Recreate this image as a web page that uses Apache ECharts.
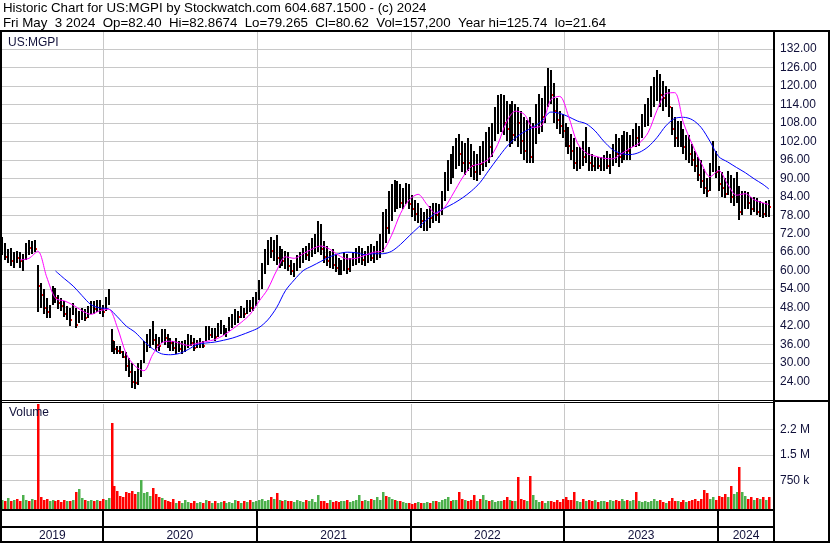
<!DOCTYPE html>
<html><head><meta charset="utf-8">
<script src="https://cdn.jsdelivr.net/npm/echarts@6/dist/echarts.min.js"></script>
<style>html,body{margin:0;padding:0;background:#fff;overflow:hidden}#c{width:830px;height:543px}</style>
</head><body><div id="c"></div>
<script>
// ---------------- DATA ----------------
const headerLine1 = 'Historic Chart for US:MGPI by Stockwatch.com 604.687.1500 - (c) 2024';
const headerLine2 = 'Fri May  3 2024  Op=82.40  Hi=82.8674  Lo=79.265  Cl=80.62  Vol=157,200  Year hi=125.74  lo=21.64';
const symbolLabel = 'US:MGPI';
const volumeLabel = 'Volume';
const firstWeek = [2019, 4, 8]; // weekly bars (Wednesdays), 261 weeks to 2024-05-01
const axisStart = '2019-05-07';
const axisEnd = '2024-05-13';
const yearSegments = [
  ['2019', '2019-01-01', '2020-01-01'],
  ['2020', '2020-01-01', '2021-01-01'],
  ['2021', '2021-01-01', '2022-01-01'],
  ['2022', '2022-01-01', '2023-01-01'],
  ['2023', '2023-01-01', '2024-01-01'],
  ['2024', '2024-01-01', '2025-01-01']
];
const highs = [
71,69,67,67.5,66,66.5,66,65.5,69,70,
69.5,70,62,56,54,51,49,55,54.5,52,
51,50,48.5,48,49.5,48,47,48,47.5,48.5,
50,50,50.5,50.5,49,51.5,54,41,37,35.5,
35.5,34,33.5,31.5,30,27.5,30,31,37,39.5,
41,43.8,39.5,38.5,41,41,39.5,38,37,38,
37,37,37.5,39.5,39,38,37.5,38,37,42,
42,41.5,41.5,43,44,42.5,41.5,45,46,47.5,
47,48.5,48,50.5,50.5,51.5,53,57,62.5,67,
70,71,70,71.5,68,67,66.5,66,63.5,62.5,
65,66,67.5,68,69,70.5,72,76,75,69.5,
68,66.5,67,65,64,63.5,66,65.5,64,66,
67.5,68,67.5,66.5,68,68.5,68,69.5,72,79,
80,86,88,89.3,89,88,87,88.5,88,84.5,
83,82,80.5,79,80,81,82,82,81.5,86,
92,96,98,100.5,103,104.5,102,101.5,103,101,
99,98,100.5,102,105,106.5,108,113,117,117.5,
117,115,114,115,114,113,112,110,109,110,
108,114,117.5,116,120,125.7,125,121,116,112,
111,108,106.5,104.5,103,100,100,102,106.5,100,
98,97,97,96.8,97.5,99,98,101,104.5,103,
104,105.5,105,104,106,108,107,111,114,116,
120,123,125,124,121.7,120,119,113,110,108.5,
108.7,106,104,104,101,99,97,96,93,90,
95,102,99,94,92,90,92.5,91,90,92,
87.5,86,86,85.5,84,84,83.5,82.7,82,82.5,
82.9];
const lows = [
65,63.5,62.5,61.5,61,62.5,61,60,63.5,65,
65.5,66,46.5,48,46,44.5,44.5,49,49.5,47.5,
47,45,44,42,45.5,41.5,43,44,43.5,44.5,
46,46,46.5,46,45,47,49,33.5,33,33,
33,31.5,27.5,25.5,22,21.6,23,25.5,30,33.5,
35,36,34,34,36.5,36,35,34,34,33,
33.5,33,33.5,35,35.5,34,35,35,35,37,
37.5,38,37,38.5,39.5,39,38.5,40.5,41.5,42.5,
43,44.5,44.5,46,46.5,47,48.5,50.5,54,59,
62,64,63,62,61,61.5,60.5,60,58.5,58,
60,61,62.5,63.5,63,64.5,65.5,66,65,62.5,
61.5,61,60.5,59.5,58.5,58.5,60,59,59.5,61.5,
62,62.5,62,61.5,62.5,63,62.5,63.5,64,66,
69,72,76,79,80,80.5,80,81.5,80,77.5,
76,75.5,74,73,73,74,75.5,76,75.5,78,
82.5,86,88,90,93,94,92,91,92.5,90.5,
89.5,89,91,92.5,93.5,95,97,102,104.5,105,
104,102,100,101,102,100,98,96,95,94.8,
95,101,104.5,105,108,113,114,108,106,104.5,
103,100,98,96,93,92.5,93,94,95,92.5,
92.5,92.5,93,92.5,92.5,93,91.5,94,95,93.5,
95,96,95.8,96,100,100,100.5,103,106.5,107,
110,113,115,113,112,113,110,104,100,100,
100,98,96,95,94,92,89,87,85,84,
86,92,90,86,84,83.5,84.5,82,81,82,
76.6,78,80,80,78,79,78,77.5,77,77.5,
77.5];
const closes = [
67,64.5,65.5,63,65,64,63,64.5,68,67.5,
69,67,55,52,48,46.5,47,53.5,51,49.5,
48.5,46,46.5,44,47.5,42.5,45,46,44.5,47,
48.5,47.5,49.5,47.5,46.5,50.5,53.5,37,34.5,34,
33.5,32,29,27,24,23.5,27.5,28.5,35.5,37.5,
38,37.5,36,35.5,39.5,38,37.5,36.5,35,36,
34.5,35.5,36,37.5,36.5,35,36.5,37,35.5,40.5,
39,39.5,38.5,41,42,40,41,43.5,44,46.5,
45,47.5,46,49,48,50.5,52,55.5,60.5,64,
67.5,66.5,68,64,65,63,64.5,61.5,60,61.5,
63.5,64.5,66,65,67.5,68,70,70.5,67,64.5,
63,64.5,62,61,60.5,62,64,60.5,62.5,64.5,
65,66.5,63.5,65,66.5,64,66,67,70,75,
74,82,85,84,86,82,85,86.5,81.5,80,
78.5,79,76,76.5,78,77,80.5,78,80,84,
89,93,91,97,99,98,95,98,95,94,
92,95,94.5,98,101,100,105,110,111,114,
108,106,109,104,112,108,102,99,101,97,
105,109,113,110,117,122,117,112,109,107,
105.5,102,100.5,99,95,96.5,98,97,99,95,
94,95.5,94,95,96,94,96.5,99,98,97,
100,102,99,101,104,103,105,109,110,113,
118,120,121,117,116,117,113,106,103,106,
102,100,101,98,96,94,91,89,87,86,
93,98,92,88,87,85,88,84,86,87,
79,83,84.5,82,80,82,79,81,78.5,81,
80.62];
const volumesK = [
180,150,220,130,160,200,140,310,170,150,
190,160,3600,250,180,200,150,170,140,160,
120,180,150,130,170,400,510,220,160,140,
180,130,170,150,200,180,220,2450,600,450,
300,250,420,380,450,350,400,760,380,420,
300,540,350,250,220,180,150,120,200,100,
130,90,160,110,80,140,100,120,90,170,
130,100,150,80,110,140,90,120,100,180,
130,90,150,110,160,120,140,170,200,150,
180,250,200,370,160,140,180,130,150,120,
160,140,110,160,130,200,120,310,150,130,
100,170,120,140,110,150,130,160,120,150,
180,310,140,160,130,200,170,250,180,400,
300,250,200,170,150,130,120,80,100,70,
90,110,80,100,120,90,150,130,110,160,
200,250,150,180,160,400,200,170,140,180,
310,150,200,310,160,130,170,120,150,140,
180,250,170,130,150,850,200,160,150,870,
310,180,120,150,100,130,140,110,160,120,
200,250,160,180,400,150,120,200,140,170,
130,160,110,150,140,120,170,130,180,150,
200,140,160,150,180,400,130,120,150,110,
140,200,130,160,120,100,150,220,130,140,
110,170,120,150,160,190,150,200,460,370,
200,250,180,300,250,350,250,600,350,400,
1160,400,300,200,250,180,220,200,250,180,
250];
// moving averages: [week index, value]
const maFast = [[6,63.5],[9,64],[12,66.3],[15,58],[18,51],[21,50.2],[24,48.8],[27,47],[30,45.8],[33,47],[36,47.5],[39,41.5],[42,33],[45,29],[48,27.5],[51,32.8],[54,36.5],[57,37.1],[60,36.5],[63,35.7],[66,36.4],[69,37],[72,37.6],[75,39],[78,41],[81,43.2],[84,45.8],[87,50],[90,54],[93,60],[96,64.5],[99,64],[102,65.5],[105,67],[108,68],[111,67],[114,65],[117,63.8],[120,64],[123,65],[126,66],[129,66.5],[132,71.5],[135,78.5],[138,83],[141,84.8],[144,81.5],[147,78.6],[150,80.6],[153,85.2],[156,90.1],[159,93.8],[162,94.7],[165,96.3],[168,101],[171,108.3],[174,111.8],[177,110.8],[180,106.5],[183,107.2],[186,115.5],[189,116.6],[192,110.2],[195,101.5],[198,98.2],[201,97.2],[204,96.5],[207,96.3],[210,98],[213,99.8],[216,101.4],[219,104.8],[222,112],[225,117.5],[228,117.8],[231,108],[234,101],[237,95],[240,90.5],[243,92.5],[246,88],[249,84.5],[252,85],[255,83],[258,82],[260,81.5]];
const maSlow = [[18,59.9],[21,57.4],[24,55],[27,51.9],[30,49],[33,47.9],[36,47.6],[39,45],[42,42],[45,40],[48,37.1],[51,34.6],[54,33],[57,32.7],[60,33.1],[63,34.4],[66,36],[69,36.5],[72,36.8],[75,37.4],[78,38.1],[81,39.1],[84,40.2],[87,41.5],[90,44],[93,48],[96,53.5],[99,57],[102,60],[105,61.5],[108,63],[111,64.5],[114,65.5],[117,66],[120,65.8],[123,65.2],[126,65.5],[129,65.5],[132,66.3],[135,68.5],[138,71.3],[141,74],[144,76.6],[147,78.7],[150,80.3],[153,81.8],[156,83.6],[159,85.8],[162,88.6],[165,92.6],[168,96.5],[171,100.2],[174,103.1],[177,105.1],[180,106.6],[183,108.6],[186,111.5],[189,111.1],[192,110],[195,108.6],[198,107.7],[201,105.4],[204,102],[207,99.3],[210,98],[213,97.7],[216,98.4],[219,100.2],[222,103.2],[225,107],[228,109.4],[231,109.8],[234,109],[237,106.5],[240,102],[243,97],[246,95.3],[249,93.5],[252,91.8],[255,89.8],[258,88],[260,86.5]];
const priceMin = 18, priceMax = 137.5, priceStep = 6, priceLabelLow = 24, priceLabelHigh = 132;
const volMin = -150000, volMax = 3000000, volStep = 150000, volLabelStep = 750000;

// ---------------- BUILD ----------------
const weeks = highs.map((_, i) => new Date(firstWeek[0], firstWeek[1], firstWeek[2] + 7 * i).getTime());
const ohlc = weeks.map((t, i) => [t, highs[i], lows[i], closes[i], (i > 0 && closes[i] < closes[i - 1]) ? 1 : 0]);
const vols = weeks.map((t, i) => [t, volumesK[i] * 1000, (i > 0 && closes[i] < closes[i - 1]) ? 1 : 0]);
const fastLine = maFast.map(p => [weeks[p[0]], p[1]]);
const slowLine = maSlow.map(p => [weeks[p[0]], p[1]]);
const yearBounds = yearSegments.slice(1).map(s => [s[1]]);

const FONT = 'Liberation Sans, Arial, sans-serif';
const TXT = '#10103a';
const GRID = '#c8c8c8';

const volTickCount = Math.round((volMax - volMin) / volStep) + 1;
const volLineColors = [];
for (let k = 0; k < volTickCount; k++) {
  const v = volMin + volStep * k;
  volLineColors.push(v > 0 && v % volLabelStep === 0 && v < volMax ? GRID : 'rgba(0,0,0,0)');
}

const xBase = { type: 'time', min: axisStart, max: axisEnd, show: false, splitLine: { show: false } };

function yearLineItem(params, api) {
  const p = api.coord([api.value(0), 0]);
  const cs = params.coordSys;
  const x = Math.round(p[0]) + 0.5;
  return { type: 'line', shape: { x1: x, y1: cs.y, x2: x, y2: cs.y + cs.height }, style: { stroke: GRID, lineWidth: 1 } };
}

const option = {
  animation: false,
  backgroundColor: '#fff',
  title: [
    { text: headerLine1, left: 3, top: 2, padding: 0, textStyle: { fontFamily: FONT, fontSize: 13.3, fontWeight: 'normal', color: '#000' } },
    { text: headerLine2, left: 3, top: 17, padding: 0, textStyle: { fontFamily: FONT, fontSize: 13.3, fontWeight: 'normal', color: '#000' } }
  ],
  grid: [
    { left: 2, right: 56, top: 32, height: 368 },
    { left: 2, right: 56, top: 404, height: 107 },
    { left: 2, right: 56, top: 511, height: 30 }
  ],
  xAxis: [
    Object.assign({ gridIndex: 0 }, xBase),
    Object.assign({ gridIndex: 1 }, xBase),
    Object.assign({ gridIndex: 2 }, xBase)
  ],
  yAxis: [
    { gridIndex: 0, type: 'value', position: 'right', min: priceMin, max: priceMax, interval: priceStep,
      axisLine: { show: false }, axisTick: { show: false },
      axisLabel: { margin: 6, fontSize: 12, fontFamily: FONT, color: TXT,
        formatter: v => (v >= priceLabelLow - 0.01 && v <= priceLabelHigh + 0.01) ? v.toFixed(2) : '' },
      splitLine: { show: true, showMinLine: false, showMaxLine: false, lineStyle: { color: GRID, width: 1 } } },
    { gridIndex: 1, type: 'value', position: 'right', min: volMin, max: volMax, interval: volStep,
      axisLine: { show: false }, axisTick: { show: false },
      axisLabel: { margin: 6, fontSize: 12, fontFamily: FONT, color: TXT,
        formatter: v => {
          const r = Math.round(v);
          if (r <= 0 || r >= volMax || r % volLabelStep !== 0) return '';
          return r >= 1000000 ? (Math.floor(r / 100000) / 10) + ' M' : (r / 1000) + ' k';
        } },
      splitLine: { show: true, lineStyle: { color: volLineColors, width: 1 } } },
    { gridIndex: 2, type: 'value', min: 0, max: 1, show: false, splitLine: { show: false } }
  ],
  series: [
    { type: 'custom', xAxisIndex: 0, yAxisIndex: 0, z: 1, silent: true, data: yearBounds, renderItem: yearLineItem },
    { type: 'custom', xAxisIndex: 1, yAxisIndex: 1, z: 1, silent: true, data: yearBounds, renderItem: yearLineItem },
    { type: 'custom', xAxisIndex: 0, yAxisIndex: 0, z: 3, silent: true, data: ohlc,
      encode: { x: 0, y: [1, 2, 3] },
      renderItem(params, api) {
        const t = api.value(0);
        const hi = api.coord([t, api.value(1)]);
        const lo = api.coord([t, api.value(2)]);
        const cl = api.coord([t, api.value(3)]);
        const bx = Math.round(hi[0]) - 1;
        const kids = [{ type: 'rect', shape: { x: bx, y: Math.round(hi[1]), width: 2, height: Math.max(1, Math.round(lo[1]) - Math.round(hi[1])) }, style: { fill: '#000' } }];
        if (api.value(4)) kids.push({ type: 'rect', shape: { x: bx + 2, y: Math.round(cl[1]) - 1, width: 1, height: 2 }, style: { fill: '#ff0000' } });
        return { type: 'group', children: kids };
      } },
    { type: 'line', xAxisIndex: 0, yAxisIndex: 0, z: 4, data: slowLine, showSymbol: false, smooth: 0.3,
      lineStyle: { color: '#0000ff', width: 1 }, silent: true },
    { type: 'line', xAxisIndex: 0, yAxisIndex: 0, z: 5, data: fastLine, showSymbol: false, smooth: 0.3,
      lineStyle: { color: '#ff00ff', width: 1 }, silent: true },
    { type: 'custom', xAxisIndex: 1, yAxisIndex: 1, z: 3, silent: true, data: vols,
      encode: { x: 0, y: 1 },
      renderItem(params, api) {
        const t = api.value(0);
        const top = api.coord([t, api.value(1)]);
        const base = api.coord([t, volMin]);
        const cs = params.coordSys;
        const y0 = Math.round(Math.max(cs.y, top[1]));
        return { type: 'rect', shape: { x: Math.round(top[0]) - 1, y: y0, width: 2.5, height: base[1] - y0 },
          style: { fill: api.value(2) ? '#ff0000' : '#4cb04c' } };
      } },
    { type: 'custom', xAxisIndex: 2, yAxisIndex: 2, z: 3, silent: true,
      data: yearSegments.map(s => [s[1], s[2], s[0]]),
      encode: { x: [0, 1] },
      renderItem(params, api) {
        const cs = params.coordSys;
        const a = api.coord([api.value(0), 0])[0];
        const b = api.coord([api.value(1), 0])[0];
        const x1 = Math.max(cs.x, a), x2 = Math.min(cs.x + cs.width, b);
        const kids = [];
        if (a > cs.x + 1) kids.push({ type: 'rect', shape: { x: Math.round(a) - 1, y: cs.y, width: 2, height: cs.height }, style: { fill: '#000' } });
        kids.push({ type: 'text', style: { text: yearSegments[params.dataIndex][0], x: (x1 + x2) / 2, y: cs.y + 24.5,
          align: 'center', verticalAlign: 'middle', font: '12px ' + FONT, fill: TXT } });
        return { type: 'group', children: kids };
      } }
  ],
  graphic: [
    { type: 'text', left: 8, top: 37, z: 50, style: { text: symbolLabel, font: '12px ' + FONT, fill: TXT } },
    { type: 'text', left: 9, top: 407, z: 50, style: { text: volumeLabel, font: '12px ' + FONT, fill: TXT } },
    { type: 'rect', z: 100, shape: { x: 0, y: 30, width: 830, height: 2 }, style: { fill: '#000' } },
    { type: 'rect', z: 100, shape: { x: 0, y: 30, width: 2, height: 513 }, style: { fill: '#000' } },
    { type: 'rect', z: 100, shape: { x: 828, y: 30, width: 2, height: 513 }, style: { fill: '#000' } },
    { type: 'rect', z: 100, shape: { x: 773, y: 30, width: 2, height: 513 }, style: { fill: '#000' } },
    { type: 'rect', z: 100, shape: { x: 0, y: 541, width: 830, height: 2 }, style: { fill: '#000' } },
    { type: 'rect', z: 100, shape: { x: 0, y: 400, width: 774, height: 1 }, style: { fill: '#000' } },
    { type: 'rect', z: 100, shape: { x: 0, y: 402, width: 774, height: 1 }, style: { fill: '#000' } },
    { type: 'rect', z: 100, shape: { x: 774, y: 400, width: 56, height: 2 }, style: { fill: '#000' } },
    { type: 'rect', z: 100, shape: { x: 0, y: 509, width: 774, height: 2 }, style: { fill: '#000' } },
    { type: 'rect', z: 100, shape: { x: 0, y: 526, width: 774, height: 2 }, style: { fill: '#000' } }
  ]
};
const chart = echarts.init(document.getElementById('c'), null, { renderer: 'canvas' });
chart.setOption(option);
</script></body></html>
